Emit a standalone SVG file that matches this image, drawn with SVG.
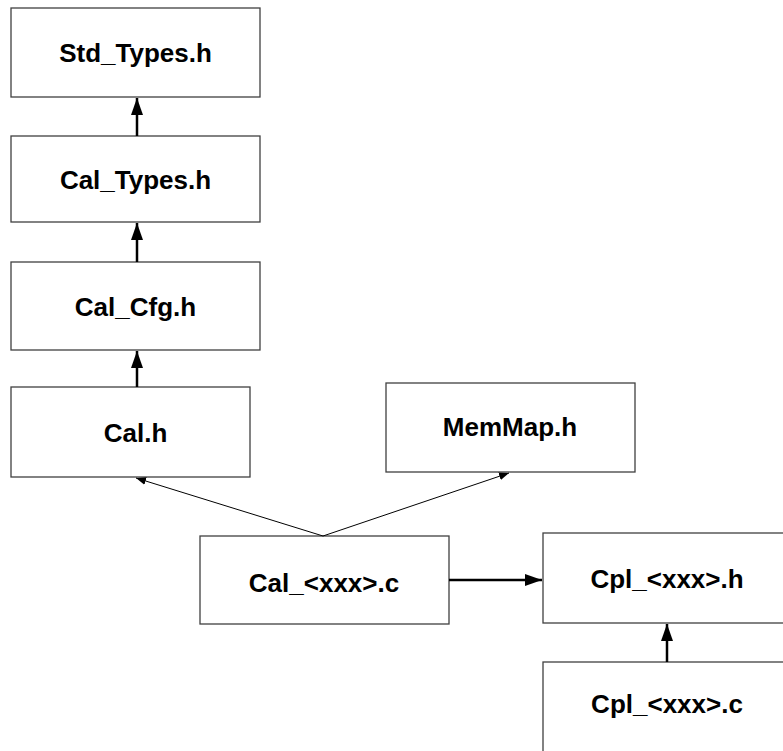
<svg xmlns="http://www.w3.org/2000/svg" width="783" height="751" viewBox="0 0 783 751">
<style>
.box{fill:#fff;stroke:#404040;stroke-width:1.3}
.lbl{font-family:"Liberation Sans",Arial,sans-serif;font-weight:bold;font-size:26px;fill:#000;text-anchor:middle}
.thick{stroke:#000;stroke-width:2.5;fill:none}
.thin{stroke:#000;stroke-width:1;fill:none}
</style>
<defs>
<marker id="big" markerUnits="userSpaceOnUse" markerWidth="18" markerHeight="12" refX="17" refY="6" orient="auto"><path d="M0,0 L17,6 L0,12 z" fill="#000"/></marker>
<marker id="small" markerUnits="userSpaceOnUse" markerWidth="10" markerHeight="8" refX="10" refY="4" orient="auto"><path d="M0,0 L10,4 L0,8 z" fill="#000"/></marker>
</defs>
<rect width="783" height="751" fill="#fff"/>
<g id="std_types"><rect class="box" x="11" y="8" width="249" height="89"/><text class="lbl" x="135.5" y="62">Std_Types.h</text></g>
<g id="cal_types"><rect class="box" x="11" y="136" width="249" height="86"/><text class="lbl" x="135.5" y="188.5">Cal_Types.h</text></g>
<g id="cal_cfg"><rect class="box" x="11" y="262" width="249" height="88"/><text class="lbl" x="135.5" y="315.5">Cal_Cfg.h</text></g>
<g id="cal_h"><rect class="box" x="11" y="387" width="239" height="90"/><text class="lbl" x="135.5" y="441.5">Cal.h</text></g>
<g id="memmap"><rect class="box" x="386" y="383" width="249" height="89"/><text class="lbl" x="510" y="436">MemMap.h</text></g>
<g id="cal_c"><rect class="box" x="200" y="536" width="249" height="88"/><text class="lbl" x="324" y="592">Cal_&lt;xxx&gt;.c</text></g>
<g id="cpl_h"><rect class="box" x="543" y="533" width="250" height="90"/><text class="lbl" x="667" y="587.5">Cpl_&lt;xxx&gt;.h</text></g>
<g id="cpl_c"><rect class="box" x="543" y="662" width="250" height="100"/><text class="lbl" x="667" y="713">Cpl_&lt;xxx&gt;.c</text></g>
<g id="connectors">
<line class="thick" x1="137" y1="136" x2="137" y2="98" marker-end="url(#big)"/>
<line class="thick" x1="137" y1="262" x2="137" y2="223" marker-end="url(#big)"/>
<line class="thick" x1="137" y1="387" x2="137" y2="351" marker-end="url(#big)"/>
<line class="thick" x1="449" y1="580" x2="542" y2="580" marker-end="url(#big)"/>
<line class="thick" x1="667" y1="662" x2="667" y2="624" marker-end="url(#big)"/>
<line class="thin" x1="323" y1="536" x2="136" y2="478" marker-end="url(#small)"/>
<line class="thin" x1="323" y1="536" x2="509" y2="473" marker-end="url(#small)"/>
</g>
</svg>
